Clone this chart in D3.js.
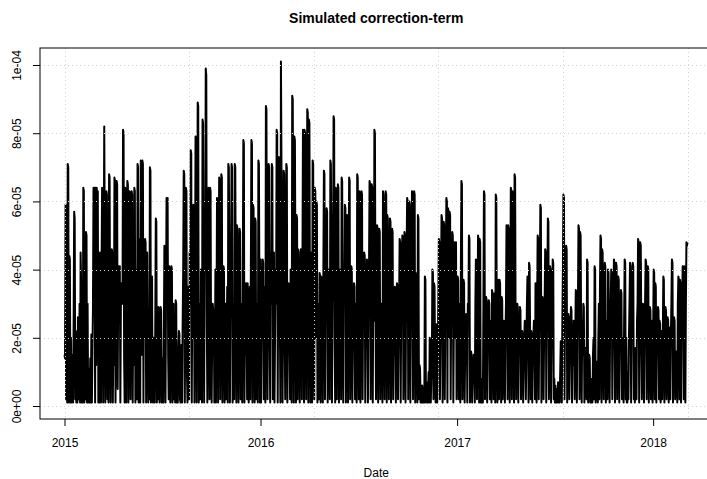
<!DOCTYPE html>
<html><head><meta charset="utf-8">
<script src="https://cdn.jsdelivr.net/npm/d3@7"></script>
<style>
html,body{margin:0;padding:0;background:#fff;overflow:hidden}
svg{display:block;font-family:"Liberation Sans",Arial,Helvetica,sans-serif}
</style></head><body>
<div id="chart"></div>
<script>
// values in units of 1e-6, one per day starting 2015-01-01
const values2015 = [
15,14,59,2,41,1,71,70,1,44, 43,1,20,1,15,9,1,25,57,55, 2,22,1,13,1,26,25,2,30,1, 45,35,1,12,1,64,63,1,40,2,
51,50,1,30,1,11,2,1,14,1, 21,1,16,29,64,63,64,1,64,12, 64,57,63,1,23,1,45,44,1,40, 64,50,1,39,82,45,1,18,63,62,
2,30,1,68,67,20,1,30,46,45, 1,20,12,67,66,1,40,66,65,5, 35,41,40,41,1,30,36,33,30,81, 80,14,1,64,63,1,40,66,65,1,
25,63,62,2,40,63,62,1,30,12, 64,63,1,40,20,2,71,70,1,49, 48,1,72,71,15,72,71,1,40,20, 49,48,1,38,45,20,1,12,2,70,
69,1,30,38,2,1,20,11,1,24, 55,54,1,20,2,29,28,1,12,29, 28,1,14,5,1,20,47,46,1,30, 61,60,61,15,2,41,40,1,20,41,
40,1,15,30,2,18,1,31,30,1, 12,1,16,22,21,2,1,10,18,1, 24,40,69,68,1,30,64,63,10,1, 35,20,2,45,30,75,74,1,40,20,
59,58,1,35,79,78,1,45,89,88, 1,30,25,2,40,30,1,84,83,30, 1,40,45,99,97,25,1,30,64,63, 2,64,63,10,1,20,30,28,27,1,
12,40,1,25,61,60,1,40,67,66, 2,30,68,67,1,25,41,40,1,15, 30,2,20,35,1,71,70,40,1,30, 38,71,70,1,30,25,2,71,70,30,
1,53,52,20,1,40,52,51,2,30, 25,1,40,78,77,1,20,15,36,35, 2,36,30,1,20,35,2,40,78,77, 1,59,58,20,1,55,54,2,30,25,
1,72,71,30,1];
const values2016 = [
43,1,25,30,43,42,2,20,35,1, 88,87,30,2,40,71,70,20,1,45, 30,71,70,2,30,45,1,20,40,30, 81,80,1,40,73,72,25,1,101,70,
45,1,30,69,68,20,2,35,71,70, 1,20,36,35,30,2,40,25,1,91, 90,30,1,79,78,40,1,56,55,2, 46,45,20,1,30,46,45,2,40,81,
80,1,81,80,30,2,45,87,86,1, 84,83,30,1,45,44,1,72,71,25, 2,64,63,20,60,59,1,30,25,2, 39,38,1,38,37,20,1,40,69,68,
2,30,35,58,57,1,25,40,20,2, 72,71,45,1,30,40,85,84,20,1, 64,63,2,35,65,64,1,25,40,30, 2,67,66,25,1,40,30,59,58,1,
30,56,55,1,40,67,66,2,25,41, 40,1,20,30,36,35,2,15,30,1, 68,67,20,2,63,62,1,40,63,62, 2,30,25,45,44,1,20,35,43,42,
1,30,40,66,65,2,30,65,64,1, 40,25,81,80,30,2,20,53,52,1, 35,52,51,2,20,30,29,1,63,62, 25,2,40,63,62,1,56,55,20,2,
35,55,54,1,30,52,51,2,20,15, 35,34,1,25,36,35,2,20,30,49, 48,1,30,40,50,49,2,25,51,50, 1,30,45,61,60,2,35,60,59,1,
25,40,63,62,2,30,63,62,1,39, 38,15,1,56,55,2,12,11,1,6, 1,6,5,1,2,1,38,37,1,7, 6,1,5,10,1,20,19,1,8,12,
40,39,2,36,35,10,1,24,23,1, 15,30,49,48,2,20,35,56,55,1, 30,54,53,2,25,40,61,60,1,58, 57,20,57,56,2,30,35,51,50,1,
25,48,47,20,48,2];
const values2017 = [
20,38,37,2,25,30,1,40,66,65, 2,20,37,36,1,15,20,27,26,1, 30,25,50,49,1,10,16,15,1,8, 12,15,14,1,30,43,42,2,25,50,
49,1,49,48,1,5,1,8,1,30, 63,62,2,25,32,31,1,20,28,31, 30,2,20,25,1,34,33,20,2,33, 30,1,62,61,20,1,37,36,2,37,
36,20,1,32,31,2,15,25,24,1, 20,30,53,52,2,53,52,20,1,30, 64,63,2,63,62,25,1,68,67,20, 2,25,30,29,1,20,15,29,28,2,
18,22,21,1,12,20,25,24,2,15, 30,38,37,1,42,41,20,2,22,21, 1,15,20,25,24,2,36,35,1,30, 50,49,2,25,35,59,58,1,20,32,
31,2,20,30,46,45,1,25,35,55, 54,2,25,41,40,1,20,30,43,42, 2,8,1,6,1,5,1,2,7,1, 5,1,10,19,18,1,25,40,62,61,
2,30,35,47,46,1,20,27,26,2, 15,22,29,28,1,20,12,25,24,2, 20,34,33,1,25,30,53,52,2,51, 50,20,1,25,15,30,29,1,10,17,
16,2,43,42,1,10,15,14,1,6, 1,8,1,15,20,2,41,40,1,8, 13,12,1,20,30,2,35,50,49,1, 46,45,20,2,30,42,41,1,20,25,
2,40,39,15,1,25,30,40,39,2, 20,30,43,42,1,25,42,41,2,20, 38,37,1,20,25,34,33,2,15,20, 1,25,43,42,2,20,1,1,10,2,
20,30,42,41,1,25,30,42,41,2, 10,1,17,16,2,25,30,49,48,1, 30,48,47,20,2,15,30,29,1,20, 30,43,42,2,25,41,40,1,20,29,
28,2,15,25,1];
const values2018 = [
20,40,39,2,36,35,1,20,15,29, 28,2,25,24,1,22,21,2,20,38, 37,1,20,29,28,2,15,26,25,1, 23,22,2,20,30,43,42,1,20,26,
25,2,10,16,15,1,30,38,37,2, 37,36,1,25,30,41,40,2,41,40, 1,30,48,47,48];

const yTicks = [0, 2e-5, 4e-5, 6e-5, 8e-5, 1e-4];
const yTickLabels = ["0e+00", "2e-05", "4e-05", "6e-05", "8e-05", "1e-04"];
const xTickYears = [2015, 2016, 2017, 2018];
const titleText = "Simulated correction-term";
const xLabel = "Date";

const W = 707, H = 479;
const startDate = Date.UTC(2015, 0, 1);
const allVals = [...values2015, ...values2016, ...values2017, ...values2018];
const data = allVals.map((v, i) => ({date: d3.utcDay.offset(new Date(startDate), i), value: v * 1e-6}));
const d0 = data[0].date, d1 = data[data.length - 1].date;

const svg = d3.select("#chart").append("svg").attr("width", W).attr("height", H);

const x = d3.scaleTime().domain([d0, d1]).range([64.5, 687.5]);
const y = d3.scaleLinear().domain([-3.81e-6, 1.0499e-4]).range([419, 48]);

const boxL = x(d0) - 24.5, boxR = x(d1) + 25, boxT = y.range()[1], boxB = y.range()[0];

// data line
svg.append("path").datum(data)
  .attr("fill", "none").attr("stroke", "#000").attr("stroke-width", 2)
  .attr("stroke-linejoin", "round")
  .attr("d", d3.line().x(d => x(d.date)).y(d => y(d.value)));

// grid (drawn on top, like R's grid())
const grid = svg.append("g").attr("stroke", "#d3d3d3").attr("stroke-width", 1).attr("stroke-dasharray", "1,3");
grid.selectAll("line.h").data(yTicks).join("line")
  .attr("x1", boxL).attr("x2", boxR).attr("y1", d => Math.round(y(d)) + 0.5).attr("y2", d => Math.round(y(d)) + 0.5);
const vgrid = d3.range(6).map(i => new Date(+d0 + i * (d1 - d0) / 5));
grid.selectAll("line.v").data(vgrid).join("line")
  .attr("y1", boxT).attr("y2", boxB).attr("x1", d => Math.round(x(d)) + 0.5).attr("x2", d => Math.round(x(d)) + 0.5);

// box
svg.append("rect").attr("x", boxL).attr("y", boxT).attr("width", boxR - boxL).attr("height", boxB - boxT)
  .attr("fill", "none").attr("stroke", "#000").attr("stroke-width", 1);

// x axis
const xAxis = d3.axisBottom(x)
  .tickValues(xTickYears.map(yr => new Date(Date.UTC(yr, 0, 1))))
  .tickFormat(d3.utcFormat("%Y")).tickSize(7).tickSizeOuter(0).tickPadding(12);
const gx = svg.append("g").attr("transform", `translate(0,${boxB})`).call(xAxis);
gx.select(".domain").remove();
gx.selectAll("text").attr("font-size", 12).attr("fill", "#000").attr("font-family", "Liberation Sans, Arial, sans-serif");

// y axis
const yAxis = d3.axisLeft(y).tickValues(yTicks).tickFormat((d, i) => yTickLabels[i]).tickSize(7).tickSizeOuter(0);
const gy = svg.append("g").attr("transform", `translate(${boxL},0)`).call(yAxis);
gy.select(".domain").remove();
gy.selectAll("text").attr("x", null).attr("dy", null).attr("text-anchor", "middle")
  .attr("transform", "translate(-19,0) rotate(-90)")
  .attr("font-size", 12).attr("fill", "#000").attr("font-family", "Liberation Sans, Arial, sans-serif");

// titles
svg.append("text").attr("x", (boxL + boxR) / 2).attr("y", 23).attr("text-anchor", "middle")
  .attr("font-size", 14).attr("font-weight", "bold").text(titleText);
svg.append("text").attr("x", (boxL + boxR) / 2).attr("y", 477).attr("text-anchor", "middle")
  .attr("font-size", 12).text(xLabel);
</script>
</body></html>
